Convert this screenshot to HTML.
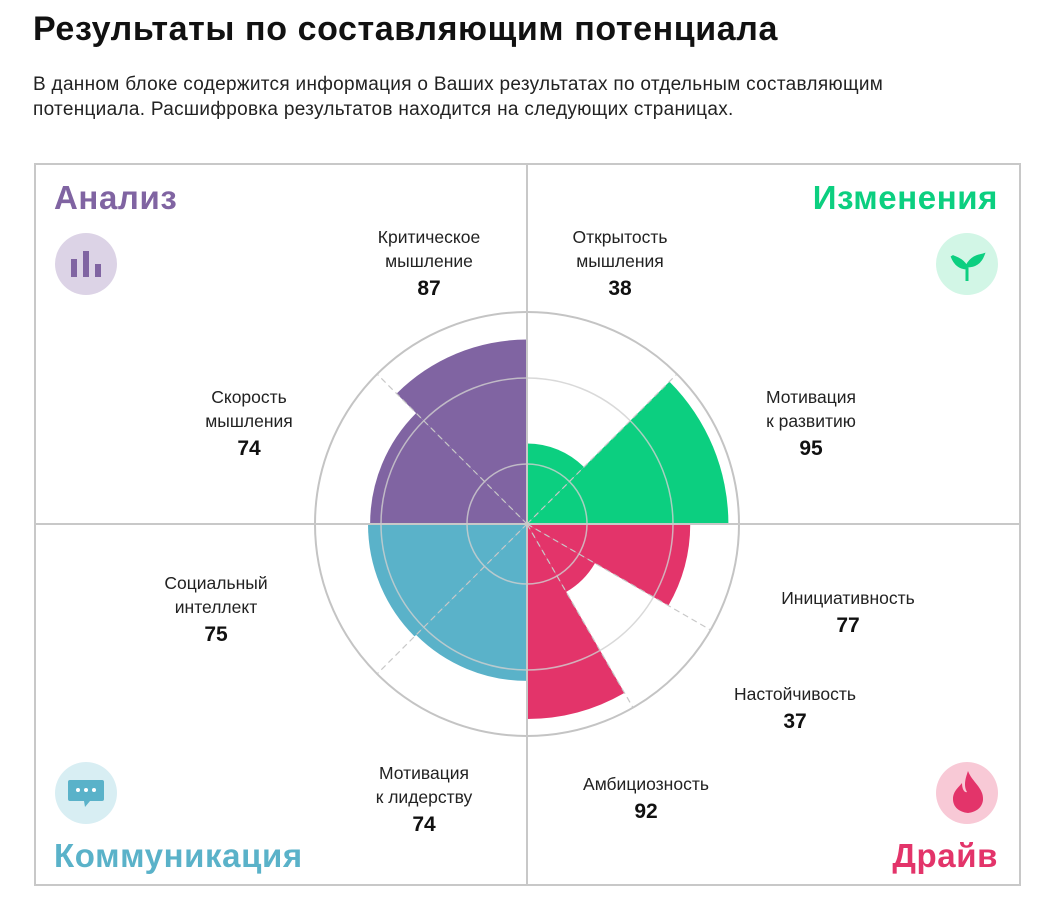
<!DOCTYPE html>
<html><head><meta charset="utf-8"><style>
body{margin:0;width:1046px;height:902px;background:#fff;font-family:"Liberation Sans","Noto Sans CJK SC",sans-serif;overflow:hidden}
h1{position:absolute;left:33px;top:10px;margin:0;font-size:34px;font-weight:bold;color:#111;letter-spacing:0.6px}
p{position:absolute;left:33px;top:72px;margin:0;font-size:19px;line-height:25px;color:#222;width:950px;letter-spacing:0.3px}
svg{position:absolute;left:0;top:0}
</style></head><body>
<h1>Результаты по составляющим потенциала</h1>
<p>В данном блоке содержится информация о Ваших результатах по отдельным составляющим<br>потенциала. Расшифровка результатов находится на следующих страницах.</p>
<svg id="chart" width="1046" height="902"></svg>
<script>
const labels=[["Открытость","мышления"],["Мотивация","к развитию"],["Инициативность"],["Настойчивость"],["Амбициозность"],["Мотивация","к лидерству"],["Социальный","интеллект"],["Скорость","мышления"],["Критическое","мышление"]];
const values=[38,95,77,37,92,74,75,74,87];
const startAngles=[0,45,90,120,150,180,225,270,315];
const spans=[45,45,30,30,30,45,45,45,45];
const colors=["#0ccf80","#0ccf80","#e3346a","#e3346a","#e3346a","#5ab2c9","#5ab2c9","#8064a2","#8064a2"];
const labelPos=[[620,227],[811,387],[848,588],[795,684],[646,774],[424,763],[216,573],[249,387],[429,227]];
const cx=527,cy=524,R=212;
const rScale=v=>v/100*R;
const svg=document.getElementById('chart');
const NS="http://www.w3.org/2000/svg";
function mk(t,a,p){const e=document.createElementNS(NS,t);for(const k in a)e.setAttribute(k,a[k]);(p||svg).appendChild(e);return e;}
function pt(r,deg){const a=deg*Math.PI/180;return [cx+r*Math.sin(a),cy-r*Math.cos(a)];}
let e;
e=mk('rect',{x:35,y:164,width:985,height:721,fill:'none',stroke:'#c8c8c8','stroke-width':2});


e=mk('circle',{cx:cx,cy:cy,r:R,fill:'none',stroke:'#c4c4c4','stroke-width':2});


values.forEach((v,i)=>{
 const r=rScale(v),a0=startAngles[i],a1=a0+spans[i];
 const p0=pt(r,a0),p1=pt(r,a1);
 const w=mk('path',{d:`M${cx},${cy}L${p0[0]},${p0[1]}A${r},${r} 0 0 1 ${p1[0]},${p1[1]}Z`,fill:colors[i]});
 
 
});
[60,146].forEach(r=>{
 e=mk('circle',{cx:cx,cy:cy,r:r,fill:'none',stroke:'#cfcfcf','stroke-width':1.5,'stroke-opacity':0.8});
 
 
});
[45,120,150,225,315].forEach(a=>{
 const p=pt(R,a);
 e=mk('line',{x1:cx,y1:cy,x2:p[0],y2:p[1],stroke:'#c8c8c8','stroke-width':1.2,'stroke-dasharray':'6,4'});
 
 
});
e=mk('line',{x1:527,y1:164,x2:527,y2:885,stroke:'#c8c8c8','stroke-width':2});


e=mk('line',{x1:35,y1:524,x2:1020,y2:524,stroke:'#c8c8c8','stroke-width':2});


labels.forEach((L,i)=>{
 const [x,y]=labelPos[i];
 L.forEach((s,j)=>{const t=mk('text',{x:x,y:y+16+j*24,'text-anchor':'middle','font-size':17.5,fill:'#222'});t.textContent=s;
 
 });
 const t=mk('text',{x:x,y:y+18+L.length*24+2,'text-anchor':'middle','font-size':21,'font-weight':'bold',fill:'#111'});t.textContent=values[i];
 
 
});
const quads=[["Анализ",54,209,'start','#8064a2'],["Изменения",998,209,'end','#0ccf80'],["Коммуникация",54,867,'start','#5ab2c9'],["Драйв",998,867,'end','#e3346a']];
quads.forEach(q=>{const t=mk('text',{x:q[1],y:q[2],'text-anchor':q[3],'font-size':33,'font-weight':'bold',fill:q[4],'letter-spacing':0.6});t.textContent=q[0];
 
 });
const icons=[[86,264,'#dcd3e6'],[967,264,'#d2f6e6'],[86,793,'#d8eef3'],[967,793,'#f8c9d6']];
icons.forEach(c=>{e=mk('circle',{cx:c[0],cy:c[1],r:31,fill:c[2]});
 
 });
mk('rect',{x:71,y:259,width:6,height:18,fill:'#8064a2'});mk('rect',{x:83,y:251,width:6,height:26,fill:'#8064a2'});mk('rect',{x:95,y:264,width:6,height:13,fill:'#8064a2'});
mk('path',{d:'M967,281 L967,266 M967,268 C962,258 954,258 952,256 C955,264 960,268 967,268 M967,266 C972,256 980,256 983,255 C980,263 974,266 967,266',stroke:'#0ccf80','stroke-width':3,fill:'#0ccf80'});
mk('path',{d:'M70,780 h32 a2,2 0 0 1 2,2 v17 a2,2 0 0 1 -2,2 h-12 l-5,6 l-1,-6 h-14 a2,2 0 0 1 -2,-2 v-17 a2,2 0 0 1 2,-2z',fill:'#5ab2c9'});
[78,86,94].forEach(x=>mk('circle',{cx:x,cy:790,r:2,fill:'#fff'}));
mk('path',{d:'M968,771 C972,782 984,788 983,800 C982,808 976,812 968,813 C959,812 953,807 953,799 C953,791 959,787 962,783 C962,790 965,793 967,792 C963,785 966,777 968,771Z',fill:'#e3346a'});
</script>
</body></html>
